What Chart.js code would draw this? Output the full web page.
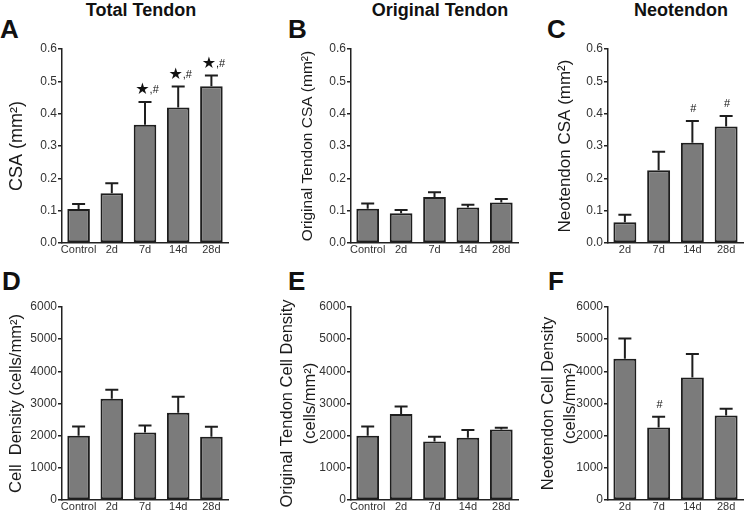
<!DOCTYPE html>
<html><head><meta charset="utf-8">
<script src="https://cdn.jsdelivr.net/npm/chart.js@4/dist/chart.umd.min.js"></script>
<style>
body{margin:0;background:#fff;width:744px;height:518px;position:relative;overflow:hidden;font-family:"Liberation Sans",Arial,sans-serif;}
canvas{position:absolute;}
.t{position:absolute;font-weight:bold;font-size:18px;line-height:18px;color:#111;white-space:nowrap;transform:translateX(-50%);}
.L{position:absolute;font-weight:bold;font-size:26px;line-height:26px;color:#111;}
</style></head><body>
<div class="t" style="left:141px;top:1px">Total Tendon</div>
<div class="t" style="left:440px;top:1px">Original Tendon</div>
<div class="t" style="left:681px;top:1px">Neotendon</div>
<div class="L" style="left:0px;top:16px">A</div>
<div class="L" style="left:288px;top:16px">B</div>
<div class="L" style="left:547px;top:16px">C</div>
<div class="L" style="left:2px;top:268px">D</div>
<div class="L" style="left:288px;top:268px">E</div>
<div class="L" style="left:548px;top:268px">F</div>
<canvas id="cA"></canvas><canvas id="cB"></canvas><canvas id="cC"></canvas>
<canvas id="cD"></canvas><canvas id="cE"></canvas><canvas id="cF"></canvas>
<script>
// ---- data ----
const catsAll = ['Control', '2d', '7d', '14d', '28d'];
const catsNeo = ['2d', '7d', '14d', '28d'];
const csaTickLabels = ['0.0', '0.1', '0.2', '0.3', '0.4', '0.5', '0.6'];
const densTickLabels = ['0', '1000', '2000', '3000', '4000', '5000', '6000'];

const csaTotal = [0.105, 0.154, 0.366, 0.419, 0.485];
const csaTotalSem = [0.016, 0.031, 0.070, 0.065, 0.033];
const csaTotalSig = ['', '', '★,#', '★,#', '★,#'];

const csaOrig = [0.106, 0.092, 0.142, 0.110, 0.125];
const csaOrigSem = [0.016, 0.010, 0.015, 0.008, 0.011];
const csaOrigSig = ['', '', '', '', ''];

const csaNeo = [0.064, 0.225, 0.310, 0.360];
const csaNeoSem = [0.023, 0.057, 0.067, 0.033];
const csaNeoSig = ['', '', '#', '#'];

const densTotal = [2000, 3146, 2100, 2711, 1966];
const densTotalSem = [286, 279, 217, 497, 310];
const densTotalSig = ['', '', '', '', ''];

const densOrig = [2000, 2670, 1820, 1935, 2190];
const densOrigSem = [286, 237, 146, 239, 60];
const densOrigSig = ['', '', '', '', ''];

const densNeo = [4390, 2255, 3810, 2630];
const densNeoSem = [630, 332, 725, 205];
const densNeoSig = ['', '#', '', ''];

// ---- drawing ----
const FAM = '"Liberation Sans", Arial, sans-serif';

function panel(o){
  const cv = document.getElementById(o.id);
  cv.width = o.w; cv.height = o.h;
  cv.style.left = o.x + 'px'; cv.style.top = o.y + 'px';
  const errPlugin = {
    id: 'err' + o.id,
    afterDatasetsDraw(chart){
      const ctx = chart.ctx, ys = chart.scales.y, meta = chart.getDatasetMeta(0);
      ctx.save();
      ctx.strokeStyle = '#1e1e1e'; ctx.lineWidth = 2;
      meta.data.forEach((bar, i) => {
        const yb = ys.getPixelForValue(o.vals[i]);
        const yt = ys.getPixelForValue(o.vals[i] + o.sems[i]);
        ctx.beginPath();
        ctx.moveTo(bar.x, yb); ctx.lineTo(bar.x, yt);
        ctx.moveTo(bar.x - 6.5, yt); ctx.lineTo(bar.x + 6.5, yt);
        ctx.stroke();
        const n = o.sig[i];
        if (n) {
          ctx.fillStyle = '#111';
          ctx.textBaseline = 'alphabetic';
          ctx.textAlign = 'left';
          const by = yt - 9;
          if (n.startsWith('★')) {
            const starFont = '16px "DejaVu Sans"';
            ctx.font = starFont;
            const sw = ctx.measureText('★').width;
            ctx.font = '11px ' + FAM;
            const rw = ctx.measureText(n.slice(1)).width;
            const sx = bar.x + 2 - (sw + rw) / 2;
            ctx.font = starFont;
            ctx.fillText('★', sx, by + 1);
            ctx.font = '11px ' + FAM;
            ctx.fillText(n.slice(1), sx + sw, by);
          } else {
            ctx.font = '11px ' + FAM;
            ctx.textAlign = 'center';
            ctx.fillText(n, bar.x + 1, by);
          }
        }
      });
      ctx.restore();
    }
  };
  new Chart(cv, {
    type: 'bar',
    data: { labels: o.cats, datasets: [{
      data: o.vals, backgroundColor: '#7b7b7b', borderColor: '#1e1e1e', borderWidth: 2,
      borderSkipped: false, barPercentage: 0.68, categoryPercentage: 1.0 }] },
    plugins: [errPlugin],
    options: {
      responsive: false, animation: false, events: [],
      layout: { padding: { left: 0, top: o.pt, right: o.pr, bottom: 0 } },
      plugins: { legend: { display: false }, tooltip: { enabled: false } },
      scales: {
        x: {
          offset: true,
          grid: { display: false, drawTicks: false },
          border: { display: true, color: '#222', width: 1.5 },
          ticks: { color: '#333', font: { family: FAM, size: 11 }, padding: 0, maxRotation: 0, autoSkip: false },
          afterFit(s){ s.height = o.xh; }
        },
        y: {
          min: 0, max: o.ymax,
          grid: { display: true, drawOnChartArea: false, drawTicks: true, tickLength: 4, color: '#222', tickColor: '#222', lineWidth: 1.5 },
          border: { display: true, color: '#222', width: 1.5 },
          ticks: { stepSize: o.step, color: '#333', font: { family: FAM, size: 12 }, padding: 1,
                   callback: (v, i) => o.tickLabels[i] },
          title: { display: true, text: o.title, color: '#1a1a1a',
                   font: { family: FAM, size: o.tfs, lineHeight: o.tlh }, padding: { top: o.tpad, bottom: 0 } },
          afterFit(s){ s.width = o.yw; }
        }
      }
    }
  });
}

const topRow = { y: 30, h: 235, pt: 19, xh: 22 };
const botRow = { y: 290, h: 228, pt: 17, xh: 18 };

panel(Object.assign({ id: 'cA', x: 0, w: 240, yw: 62, pr: 12, cats: catsAll, vals: csaTotal, sems: csaTotalSem, sig: csaTotalSig,
  ymax: 0.6, step: 0.1, tickLabels: csaTickLabels, title: 'CSA (mm²)', tfs: 18, tlh: 1.2, tpad: 6.7 }, topRow));
panel(Object.assign({ id: 'cB', x: 250, w: 272, yw: 101, pr: 4, cats: catsAll, vals: csaOrig, sems: csaOrigSem, sig: csaOrigSig,
  ymax: 0.6, step: 0.1, tickLabels: csaTickLabels, title: 'Original Tendon CSA (mm²)', tfs: 15.5, tlh: 1.2, tpad: 48.2 }, topRow));
panel(Object.assign({ id: 'cC', x: 530, w: 214, yw: 78, pr: 1, cats: catsNeo, vals: csaNeo, sems: csaNeoSem, sig: csaNeoSig,
  ymax: 0.6, step: 0.1, tickLabels: csaTickLabels, title: 'Neotendon CSA (mm²)', tfs: 17, tlh: 1.2, tpad: 25.3 }, topRow));
panel(Object.assign({ id: 'cD', x: 0, w: 240, yw: 62, pr: 12, cats: catsAll, vals: densTotal, sems: densTotalSem, sig: densTotalSig,
  ymax: 6000, step: 1000, tickLabels: densTickLabels, title: 'Cell  Density (cells/mm²)', tfs: 16.5, tlh: 1.2, tpad: 6.6 }, botRow));
panel(Object.assign({ id: 'cE', x: 250, w: 272, yw: 101, pr: 4, cats: catsAll, vals: densOrig, sems: densOrigSem, sig: densOrigSig,
  ymax: 6000, step: 1000, tickLabels: densTickLabels, title: ['Original Tendon Cell Density', '(cells/mm²)'], tfs: 16.5, tlh: '22.5px', tpad: 26.25 }, botRow));
panel(Object.assign({ id: 'cF', x: 530, w: 214, yw: 78, pr: 1, cats: catsNeo, vals: densNeo, sems: densNeoSem, sig: densNeoSig,
  ymax: 6000, step: 1000, tickLabels: densTickLabels, title: ['Neotendon Cell Density', '(cells/mm²)'], tfs: 16.5, tlh: '21.5px', tpad: 7.75 }, botRow));
</script>
</body></html>
